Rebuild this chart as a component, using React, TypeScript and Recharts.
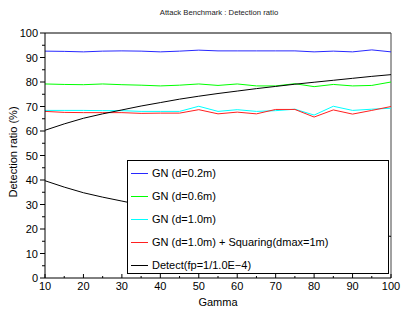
import React from "react";
import { LineChart, Line, XAxis, YAxis, ReferenceLine } from "recharts";

const gamma = [10, 15, 20, 25, 30, 35, 40, 45, 50, 55, 60, 65, 70, 75, 80, 85, 90, 95, 100];
const gn02 = [92.6, 92.5, 92.3, 92.6, 92.7, 92.6, 92.3, 92.6, 93.0, 92.7, 92.7, 92.7, 92.7, 92.7, 92.3, 92.6, 92.3, 93.1, 92.3];
const gn06 = [79.2, 79.0, 78.9, 79.2, 78.9, 78.7, 78.4, 78.7, 79.2, 78.6, 79.2, 78.4, 78.4, 79.3, 78.1, 79.0, 78.4, 78.6, 80.0];
const gn10 = [68.4, 68.4, 68.4, 68.3, 68.3, 68.0, 68.0, 68.0, 70.1, 68.0, 68.7, 68.0, 68.3, 68.9, 66.5, 70.1, 68.4, 68.9, 69.3];
const gn10sq = [68.0, 67.6, 67.5, 67.5, 67.5, 67.2, 67.3, 67.3, 68.7, 67.0, 67.7, 67.0, 68.8, 68.8, 65.7, 68.6, 66.9, 68.4, 70.0];
const detectUp = [60.3, 62.9, 65.2, 67.0, 68.6, 70.2, 71.6, 73.0, 74.2, 75.3, 76.3, 77.3, 78.2, 79.1, 79.9, 80.7, 81.5, 82.3, 83.0];
const detectDown = [39.7, 37.1, 34.8, 33.0, 31.4, 29.8, 28.4, 27.0, 25.8, 24.7, 23.7, 22.7, 21.8, 20.9, 20.1, 19.3, 18.5, 17.7, 17.0];

const xTicks = [10, 15, 20, 25, 30, 35, 40, 45, 50, 55, 60, 65, 70, 75, 80, 85, 90, 95, 100];
const yTicks = [0, 5, 10, 15, 20, 25, 30, 35, 40, 45, 50, 55, 60, 65, 70, 75, 80, 85, 90, 95, 100];

const series = [
  { key: "gn02", name: "GN (d=0.2m)", color: "#2828ff" },
  { key: "gn06", name: "GN (d=0.6m)", color: "#00ff00" },
  { key: "gn10", name: "GN (d=1.0m)", color: "#00ffff" },
  { key: "gn10sq", name: "GN (d=1.0m) + Squaring(dmax=1m)", color: "#ff2020" },
  { key: "detectUp", name: "Detect(fp=1/1.0E\u22124)", color: "#000000" },
];

const data = gamma.map((g, i) => ({
  gamma: g,
  gn02: gn02[i],
  gn06: gn06[i],
  gn10: gn10[i],
  gn10sq: gn10sq[i],
  detectUp: detectUp[i],
  detectDown: detectDown[i],
}));

const font = "'Liberation Sans', Arial, Helvetica, sans-serif";

const XTick = (props: any) => {
  const { x, y, payload } = props;
  const major = payload.value % 10 === 0;
  return (
    <g>
      <line x1={x} x2={x} y1={y} y2={y - (major ? 4 : 2)} stroke="#000" />
      {major && (
        <text x={x} y={y + 12} textAnchor="middle" fontSize={11} fontFamily={font} fill="#000">
          {payload.value}
        </text>
      )}
    </g>
  );
};

const YTick = (props: any) => {
  const { x, y, payload } = props;
  const major = payload.value % 10 === 0;
  return (
    <g>
      <line x1={x - (major ? 5 : 3)} x2={x} y1={y} y2={y} stroke="#000" />
      {major && (
        <text x={x - 7} y={y + 4} textAnchor="end" fontSize={11} fontFamily={font} fill="#000">
          {payload.value}
        </text>
      )}
    </g>
  );
};

export default function App() {
  return (
    <div style={{ position: "absolute", left: 0, top: 0, width: 401, height: 316, background: "#fff" }}>
      <LineChart width={401} height={316} data={data} margin={{ top: 33, right: 10, bottom: 0, left: 0 }}>
        <XAxis
          dataKey="gamma"
          type="number"
          domain={[10, 100]}
          ticks={xTicks}
          interval={0}
          tickSize={0}
          tickMargin={0}
          tick={<XTick />}
          height={38}
          axisLine={{ stroke: "#000" }}
          label={{
            content: () => (
              <text x={218} y={306} textAnchor="middle" fontSize={11} fontFamily={font} fill="#000">
                Gamma
              </text>
            ),
          }}
        />
        <YAxis
          type="number"
          domain={[0, 100]}
          ticks={yTicks}
          interval={0}
          tickSize={0}
          tickMargin={0}
          tick={<YTick />}
          width={45}
          axisLine={{ stroke: "#000" }}
          label={{
            content: () => (
              <text
                x={13}
                y={152}
                transform="rotate(-90 13 152)"
                textAnchor="middle"
                dominantBaseline="central"
                fontSize={11}
                fontFamily={font}
                fill="#000"
              >
                Detection ratio (%)
              </text>
            ),
          }}
        />
        <ReferenceLine y={100} stroke="#000" />
        <ReferenceLine x={100} stroke="#444" />
        {series.map((s) => (
          <Line
            key={s.key}
            type="linear"
            dataKey={s.key}
            stroke={s.color}
            strokeWidth={1}
            dot={false}
            isAnimationActive={false}
          />
        ))}
        <Line type="linear" dataKey="detectDown" stroke="#000" strokeWidth={1} dot={false} isAnimationActive={false} />
      </LineChart>
      <div
        style={{
          position: "absolute",
          left: 219,
          top: 8,
          transform: "translateX(-50%)",
          fontFamily: font,
          fontSize: 7.7,
          whiteSpace: "nowrap",
          color: "#222",
        }}
      >
        Attack Benchmark : Detection ratio
      </div>
      <div
        style={{
          position: "absolute",
          left: 127,
          top: 160,
          width: 260,
          height: 112,
          border: "1px solid #000",
          background: "#fff",
          zIndex: 1,
          fontFamily: font,
          fontSize: 11,
          color: "#000",
        }}
      >
        {series.map((s, i) => (
          <div
            key={s.key}
            style={{ position: "absolute", left: 3, top: 4 + i * 23, height: 16, display: "flex", alignItems: "center", whiteSpace: "nowrap" }}
          >
            <span style={{ display: "inline-block", width: 17, height: 0, borderTop: `1px solid ${s.color}`, marginRight: 4 }} />
            <span>{s.name}</span>
          </div>
        ))}
      </div>
    </div>
  );
}
